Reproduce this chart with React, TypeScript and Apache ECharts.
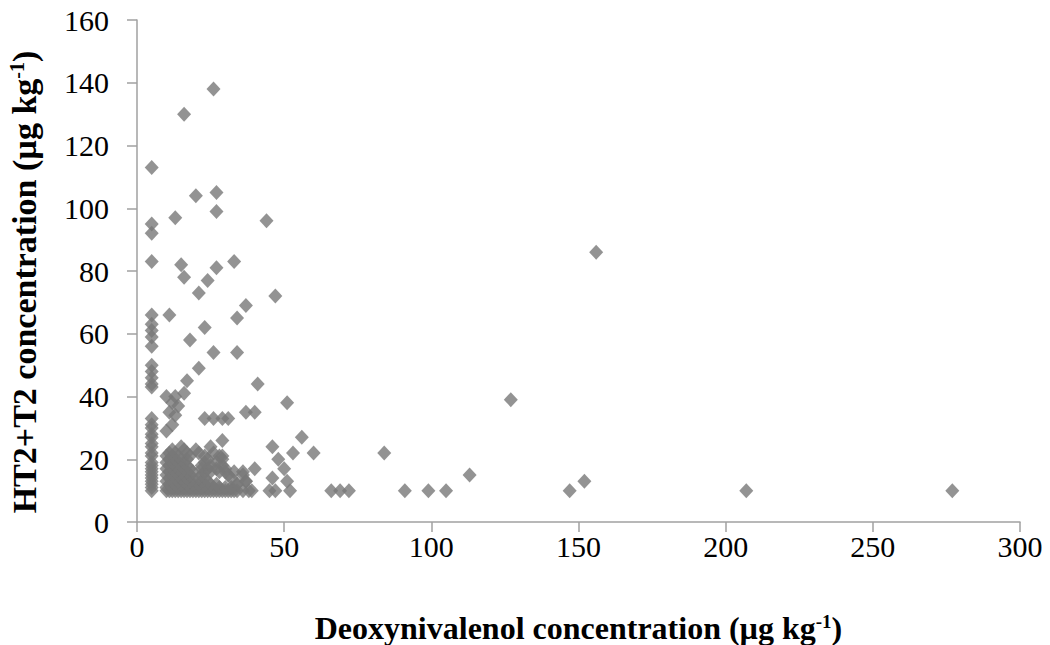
import React, { useEffect, useRef } from "react";
import * as echarts from "echarts";

// DON at detection limit (x = 5), HT2+T2 values
const lodX = 5;
const lodColumnY = [113, 95, 92, 83, 66, 63, 61, 59, 56, 50, 48, 46, 44, 43, 33, 31, 30, 28, 27, 25, 24, 22, 21, 19, 18, 17, 16, 15, 14, 13, 12, 11, 10];

// scattered upper points [DON, HT2+T2]
const upperPoints = [
  [16, 130], [26, 138], [13, 97], [20, 104], [27, 105], [27, 99], [44, 96], [15, 82], [16, 78], [24, 77],
  [21, 73], [27, 81], [33, 83], [37, 69], [34, 65], [47, 72], [156, 86], [11, 66], [23, 62], [18, 58],
  [26, 54], [34, 54], [21, 49], [17, 45], [41, 44], [127, 39], [51, 38],
];

// middle / lower scattered points
const lowerPoints = [
  [10, 40], [13, 40], [16, 41], [12, 38], [14, 37], [11, 35], [13, 34], [12, 31], [10, 29], [37, 35],
  [40, 35], [23, 33], [26, 33], [29, 33], [31, 33], [29, 26], [56, 27], [46, 24], [25, 24], [53, 22],
  [60, 22], [84, 22], [29, 21], [48, 20], [50, 17], [46, 14], [51, 13], [113, 15], [152, 13], [36, 16],
  [40, 17], [37, 13], [34, 12], [39, 10], [45, 10], [47, 10], [52, 10], [66, 10], [69, 10], [72, 10],
  [91, 10], [99, 10], [105, 10], [147, 10], [207, 10], [277, 10],
];

// dense cluster rows: HT2+T2 level -> DON values
const clusterY = [10, 11, 12, 13, 14, 15, 16, 17, 18, 19, 20, 21, 22, 23, 24];
const clusterX = [
  [10, 11, 12, 13, 14, 15, 16, 17, 18, 19, 20, 21, 22, 23, 24, 25, 26, 27, 28, 29, 30, 31, 32, 33, 34, 36, 38],
  [10, 12, 14, 16, 18, 20, 22, 24, 26, 28, 30, 32],
  [11, 13, 15, 17, 19, 21, 23, 25, 27, 34],
  [10, 12, 14, 16, 18, 22, 24, 37],
  [11, 13, 15, 17, 19, 21, 23, 32],
  [10, 12, 14, 16, 18, 22, 31, 36],
  [11, 13, 15, 17, 19, 23, 25, 28, 30, 33],
  [10, 12, 14, 16, 18, 22, 24, 27, 30],
  [11, 13, 15, 17, 22, 25, 29],
  [10, 12, 14, 16, 23, 27],
  [11, 13, 15, 17, 24, 29],
  [10, 12, 14, 18, 23, 28],
  [11, 13, 17, 21, 26],
  [12, 16, 20],
  [15],
];

const xTicks = { min: 0, max: 300, interval: 50 };
const yTicks = { min: 0, max: 160, interval: 20 };

const FONT = "'Liberation Serif', 'Times New Roman', serif";

export default function App() {
  const ref = useRef<HTMLDivElement>(null);
  useEffect(() => {
    if (!ref.current) return;
    const chart = echarts.init(ref.current, undefined, { renderer: "svg" });
    const data: number[][] = [];
    lodColumnY.forEach((y) => data.push([lodX, y]));
    upperPoints.forEach((p) => data.push(p));
    lowerPoints.forEach((p) => data.push(p));
    clusterY.forEach((y, i) => clusterX[i].forEach((x) => data.push([x, y])));

    const supRich = (size: number) => ({
      sup: { fontSize: size, fontWeight: "bold", fontFamily: FONT, color: "#000", verticalAlign: "top", lineHeight: size },
    });

    chart.setOption({
      animation: false,
      backgroundColor: "#ffffff",
      grid: { left: 137, right: 30, top: 20, bottom: 123, containLabel: false, outerBoundsMode: "none" },
      xAxis: {
        type: "value",
        ...xTicks,
        name: "Deoxynivalenol concentration (µg kg{sup|-1})",
        nameLocation: "middle",
        nameGap: 90,
        nameTextStyle: { fontFamily: FONT, fontSize: 32, fontWeight: "bold", color: "#000", rich: supRich(19) },
        splitLine: { show: false },
        axisLine: { show: true, lineStyle: { color: "#a0a0a0", width: 1.5 } },
        axisTick: { show: true, length: 10, lineStyle: { color: "#a0a0a0", width: 1.5 } },
        axisLabel: { fontFamily: FONT, fontSize: 30, color: "#000", margin: 9 },
      },
      yAxis: {
        type: "value",
        ...yTicks,
        name: "HT2+T2 concentration (µg kg{sup|-1})",
        nameLocation: "middle",
        nameGap: 96,
        nameRotate: 90,
        nameTextStyle: {
          fontFamily: FONT, fontSize: 34, fontWeight: "bold", color: "#000", rich: supRich(20),
          padding: [0, 22, 0, 0],
        },
        splitLine: { show: false },
        axisLine: { show: true, lineStyle: { color: "#a0a0a0", width: 1.5 } },
        axisTick: { show: true, length: 10, lineStyle: { color: "#a0a0a0", width: 1.5 } },
        axisLabel: { fontFamily: FONT, fontSize: 30, color: "#000", margin: 28 },
      },
      series: [
        {
          type: "scatter",
          data,
          symbol: "diamond",
          symbolSize: [14, 15],
          itemStyle: { color: "#787878" },
        },
      ],
    });
    return () => chart.dispose();
  }, []);
  return (
    <div
      ref={ref}
      style={{ position: "fixed", left: 0, top: 0, width: 1050, height: 645, background: "#fff" }}
    />
  );
}
